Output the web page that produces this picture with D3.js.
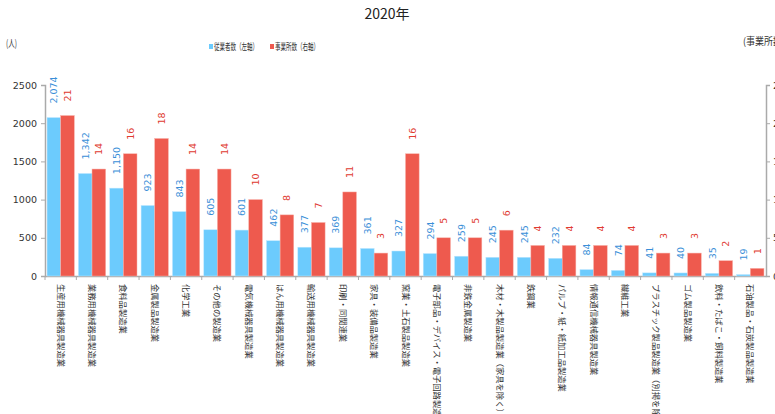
<!DOCTYPE html>
<html>
<head>
<meta charset="utf-8">
<script src="https://cdn.jsdelivr.net/npm/d3@7"></script>
<style>
body { margin: 0; background: #fff; }
svg { display: block; font-family: "Noto Sans CJK JP", sans-serif; }
</style>
</head>
<body>
<script>
// chart size
var w = 775, h = 414;

// data
var categories = [
    "生産用機械器具製造業", "業務用機械器具製造業", "食料品製造業", "金属製品製造業",
    "化学工業", "その他の製造業", "電気機械器具製造業", "はん用機械器具製造業",
    "輸送用機械器具製造業", "印刷・同関連業", "家具・装備品製造業", "窯業・土石製品製造業",
    "電子部品・デバイス・電子回路製造業", "非鉄金属製造業", "木材・木製品製造業（家具を除く）",
    "鉄鋼業", "パルプ・紙・紙加工品製造業", "情報通信機械器具製造業", "繊維工業",
    "プラスチック製品製造業（別掲を除く）", "ゴム製品製造業", "飲料・たばこ・飼料製造業",
    "石油製品・石炭製品製造業"
];
var workers = [2074, 1342, 1150, 923, 843, 605, 601, 462, 377, 369, 361, 327,
    294, 259, 245, 245, 232, 84, 74, 41, 40, 35, 19];
var offices = [21, 14, 16, 18, 14, 14, 10, 8, 7, 11, 3, 16, 5, 5, 6, 4, 4, 4, 4, 3, 3, 2, 1];
var leftTicks = [0, 500, 1000, 1500, 2000, 2500];
var rightTicks = [0, 5, 10, 15, 20, 25];

var svg = d3.select("body").append("svg")
    .attr("width", w)
    .attr("height", h);

var x = d3.scaleBand()
    .domain(categories)
    .range([45, 766]);

var inner = d3.scaleBand()
    .domain(["workers", "offices"])
    .range([0, x.bandwidth()])
    .paddingOuter(0.15);

var yLeft = d3.scaleLinear().domain([0, 2500]).range([276, 85]);
var yRight = d3.scaleLinear().domain([0, 25]).range([276, 85]);

// title
svg.append("text")
    .attr("x", 387)
    .attr("y", 19)
    .attr("text-anchor", "middle")
    .style("font-size", "14px")
    .style("fill", "#222")
    .text("2020年");

// unit labels
svg.append("text").attr("x", 6).attr("y", 47)
    .attr("textLength", 11).attr("lengthAdjust", "spacingAndGlyphs")
    .style("font-size", "10px").style("fill", "#333").text("(人)");
svg.append("text").attr("x", 743).attr("y", 45)
    .attr("textLength", 42).attr("lengthAdjust", "spacingAndGlyphs")
    .style("font-size", "10px").style("fill", "#333").text("(事業所数)");

// legend
var legend = [
    { name: "従業者数（左軸）", color: "#6ccbfd", x: 209 },
    { name: "事業所数（右軸）", color: "#ee5a4e", x: 270 }
];
var lg = svg.selectAll(".legend")
    .data(legend)
    .enter()
    .append("g")
    .attr("class", "legend")
    .attr("transform", function(d){ return "translate(" + d.x + ",0)"; });
lg.append("rect").attr("x", 0).attr("y", 44).attr("width", 4).attr("height", 5)
    .attr("fill", function(d){ return d.color; });
lg.append("text").attr("x", 5).attr("y", 50)
    .attr("textLength", 44).attr("lengthAdjust", "spacingAndGlyphs")
    .style("font-size", "9.5px").style("fill", "#333")
    .text(function(d){ return d.name; });

// axes
var leftAxis = svg.append("g")
    .attr("transform", "translate(45,0)")
    .call(d3.axisLeft(yLeft).tickValues(leftTicks).tickSize(4).tickPadding(4).tickFormat(d3.format("d")));
var rightAxis = svg.append("g")
    .attr("transform", "translate(766,0)")
    .call(d3.axisRight(yRight).tickValues(rightTicks).tickSize(4).tickPadding(3));
var bottomAxis = svg.append("g")
    .attr("transform", "translate(0,276)")
    .call(d3.axisBottom(x).tickSize(0).tickFormat(""));

[leftAxis, rightAxis, bottomAxis].forEach(function(a){
    a.select(".domain").attr("stroke", "#aaa").attr("stroke-width", 1.5);
    a.selectAll(".tick line").attr("stroke", "#aaa");
    a.selectAll("text").style("font-family", "DejaVu Sans, sans-serif")
        .style("font-size", "9.5px").attr("fill", "#333");
});

// bottom ticks between categories
svg.selectAll(".xtick")
    .data(categories)
    .enter()
    .append("line")
    .attr("class", "xtick")
    .attr("x1", function(d){ return x(d); })
    .attr("x2", function(d){ return x(d); })
    .attr("y1", 276)
    .attr("y2", 280)
    .attr("stroke", "#aaa");

// bars
var groups = svg.selectAll(".cat")
    .data(categories)
    .enter()
    .append("g")
    .attr("class", "cat")
    .attr("transform", function(d){ return "translate(" + x(d) + ",0)"; });

groups.append("rect")
    .attr("x", inner("workers"))
    .attr("width", inner.bandwidth())
    .attr("y", function(d, i){ return yLeft(workers[i]); })
    .attr("height", function(d, i){ return 276 - yLeft(workers[i]); })
    .attr("fill", "#6ccbfd")
    .attr("stroke", "#bfe8ff")
    .attr("stroke-width", 0.5);

groups.append("rect")
    .attr("x", inner("offices"))
    .attr("width", inner.bandwidth())
    .attr("y", function(d, i){ return yRight(offices[i]); })
    .attr("height", function(d, i){ return 276 - yRight(offices[i]); })
    .attr("fill", "#ee5a4e")
    .attr("stroke", "#f7b0a8")
    .attr("stroke-width", 0.5);

// value labels (rotated)
groups.append("text")
    .attr("transform", function(d, i){
        var cx = inner("workers") + inner.bandwidth() / 2 + 3.5;
        return "translate(" + cx + "," + (yLeft(workers[i]) - 14) + ") rotate(-90)";
    })
    .style("font-family", "DejaVu Sans, sans-serif")
    .style("font-size", "9.5px")
    .attr("fill", "#3a8fd8")
    .text(function(d, i){ return d3.format(",")(workers[i]); });

groups.append("text")
    .attr("transform", function(d, i){
        var cx = inner("offices") + inner.bandwidth() / 2 + 3.5;
        return "translate(" + cx + "," + (yRight(offices[i]) - 14) + ") rotate(-90)";
    })
    .style("font-family", "DejaVu Sans, sans-serif")
    .style("font-size", "9.5px")
    .attr("fill", "#e03a30")
    .text(function(d, i){ return offices[i]; });

// category labels (vertical)
groups.append("text")
    .attr("transform", "translate(" + (x.bandwidth() / 2 - 3) + ",284) rotate(90)")
    .style("font-size", "8.3px")
    .attr("fill", "#333")
    .text(function(d){ return d; });
</script>
</body>
</html>
